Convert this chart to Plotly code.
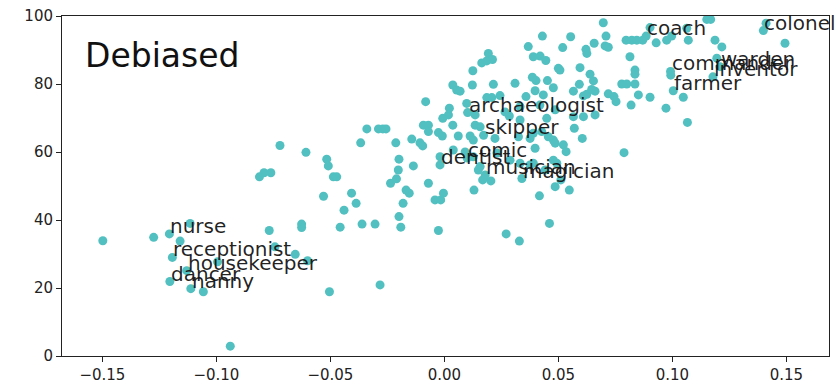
import plotly.graph_objects as go

# Unlabeled points (x = bias projection, y = score)
x_vals = [
    -0.1498, -0.1275, -0.1115, -0.1159, -0.1057, -0.0995, -0.0939, -0.0768, -0.0743, -0.0626,
    -0.0626, -0.0654, -0.0600, -0.0457, -0.0504, -0.0440, -0.0530, -0.0407, -0.0387, -0.0361,
    -0.0304, -0.0236, -0.0210, -0.0202, -0.0168, -0.0154, -0.0181, -0.0199, -0.0191, -0.0282,
    -0.0070, -0.0041, -0.0016, -0.0004, -0.0026, 0.0130, 0.0168, 0.0204, 0.0271, 0.0329,
    0.0417, 0.0461, 0.0486, 0.0548, 0.0511, -0.0721, -0.0607, -0.0811, -0.0791, -0.0761,
    -0.0516, -0.0509, -0.0487, -0.0472, -0.0340, -0.0289, -0.0270, -0.0256, -0.0367, -0.0213,
    -0.0199, -0.0136, -0.0143, -0.0107, -0.0095, -0.0092, -0.0070, -0.0070, -0.0082, -0.0007,
    0.0018, 0.0022, 0.0037, -0.0009, -0.0019, 0.0037, 0.0054, 0.0069, 0.0125, 0.0123,
    0.0164, 0.0193, 0.0211, 0.0186, 0.0215, 0.0186, 0.0208, 0.0244, 0.0098, 0.0135,
    0.0061, 0.0113, 0.0127, 0.0157, 0.0222, 0.0127, 0.0157, 0.0310, 0.0368, 0.0430,
    0.0390, 0.0420, 0.0445, 0.0386, 0.0402, 0.0452, 0.0398, 0.0434, 0.0500, 0.0358,
    0.0332, 0.0449, 0.0390, 0.0398, 0.0478, 0.0519, 0.0554, 0.0507, 0.0595, 0.0621,
    0.0625, 0.0657, 0.0639, 0.0654, 0.0592, 0.0566, 0.0610, 0.0625, 0.0661, 0.0285,
    -0.0026, 0.0135, 0.0149, 0.0478, 0.0493, 0.0522, 0.0534, 0.0605, 0.0570, 0.0478,
    0.0486, 0.0661, 0.0697, 0.0709, 0.0705, 0.0719, 0.0814, 0.0836, 0.0836, 0.0646,
    0.0778, 0.0800, 0.0836, 0.0719, 0.0744, 0.0753, 0.0851, 0.0902, 0.0819, 0.0972,
    0.1048, 0.1066, 0.0788, 0.0929, 0.0797, 0.0822, 0.0844, 0.0870, 0.0902, 0.0975,
    0.0997, 0.1063, 0.1070, 0.1151, 0.1168, 0.1187, 0.1217, 0.0993, 0.1195, 0.1411,
    0.1494, 0.0566, 0.0610, 0.0427, 0.0456, 0.0266, 0.0332, 0.0419, 0.0486, 0.0325,
    0.0376, 0.0039, 0.0091, 0.0231, 0.0288, 0.0376, 0.0442, 0.0332, 0.0390,
]
y_vals = [
    33.9, 34.9, 39.0, 33.8, 18.9, 27.7, 2.9, 36.9, 32.1, 38.8,
    37.8, 29.9, 28.0, 37.9, 18.9, 42.9, 47.0, 47.9, 44.9, 38.8,
    38.8, 50.8, 52.1, 54.7, 48.8, 47.9, 44.9, 41.0, 37.9, 20.9,
    50.8, 45.9, 45.9, 47.9, 36.9, 48.8, 51.8, 51.5, 35.9, 33.8,
    47.1, 39.0, 49.8, 48.8, 51.8, 61.9, 59.9, 52.7, 53.9, 53.9,
    57.9, 55.9, 52.7, 52.7, 66.8, 66.8, 66.8, 66.8, 62.7, 62.7,
    57.9, 55.9, 63.8, 62.7, 61.8, 67.9, 67.9, 66.0, 74.8, 69.9,
    70.9, 72.9, 67.9, 64.7, 58.6, 79.7, 78.2, 77.9, 83.9, 79.7,
    86.2, 89.0, 87.2, 86.8, 79.9, 76.0, 76.0, 76.6, 74.3, 67.9,
    64.7, 64.7, 63.5, 67.4, 64.0, 58.6, 55.7, 80.2, 91.0, 94.1,
    88.0, 88.2, 86.9, 82.0, 81.0, 81.0, 78.0, 76.8, 84.6, 76.3,
    73.3, 69.9, 65.5, 61.1, 78.9, 90.7, 93.9, 84.1, 84.8, 90.2,
    89.0, 92.0, 82.9, 80.9, 79.9, 77.9, 76.5, 77.0, 77.9, 70.6,
    65.7, 70.9, 54.7, 57.6, 56.7, 62.1, 60.1, 64.0, 67.0, 63.5,
    62.6, 70.9, 98.0, 94.1, 91.2, 90.8, 88.0, 84.1, 82.9, 78.4,
    80.0, 80.0, 80.0, 77.1, 76.3, 74.8, 76.8, 76.1, 73.8, 72.9,
    76.1, 68.7, 59.8, 92.1, 92.9, 92.9, 92.9, 92.9, 96.6, 92.9,
    94.1, 96.4, 92.9, 99.0, 99.0, 92.9, 90.9, 82.6, 87.6, 97.9,
    92.0, 70.4, 70.4, 66.0, 64.5, 71.8, 69.4, 73.8, 72.4, 64.5,
    64.0, 60.6, 60.0, 59.7, 57.6, 56.2, 54.7, 56.7, 56.7,
]

# Labeled points
label_words = ["nurse", "receptionist", "housekeeper", "dancer", "nanny",
               "dentist", "comic", "musician", "magician", "skipper",
               "archaeologist", "coach", "colonel", "commander", "warden",
               "inventor", "farmer"]
label_x = [-0.1206, -0.1193, -0.1130, -0.1204, -0.1112,
           -0.0019, 0.0100, 0.0179, 0.0340, 0.0172,
           0.0102, 0.0885, 0.1399, 0.0992, 0.1209,
           0.1178, 0.1004]
label_y = [35.9, 29.0, 25.1, 21.9, 19.8,
           56.2, 58.2, 53.2, 52.2, 64.9,
           71.6, 94.1, 95.7, 83.7, 85.1,
           82.1, 78.0]

x_ticks = [-0.15, -0.10, -0.05, 0.00, 0.05, 0.10, 0.15]
y_ticks = [0, 20, 40, 60, 80, 100]
panel_title = "Debiased"

FONT = "DejaVu Sans"
DOT = "rgb(82,192,192)"

fig = go.Figure()
fig.add_trace(go.Scatter(
    x=x_vals + label_x, y=y_vals + label_y, mode="markers",
    marker=dict(color=DOT, size=9, line=dict(width=0)),
    hoverinfo="skip", showlegend=False,
))

annotations = []
for w, xv, yv in zip(label_words, label_x, label_y):
    annotations.append(dict(
        x=xv, y=yv, xref="x", yref="y", text=w, showarrow=False,
        xanchor="left", yanchor="bottom", xshift=-1, yshift=-6,
        font=dict(family=FONT, size=20, color="rgba(20,20,20,0.95)"),
    ))
annotations.append(dict(
    x=0.027, y=0.885, xref="paper", yref="paper", text=panel_title,
    showarrow=False, xanchor="left", yanchor="middle",
    font=dict(family=FONT, size=33, color="#111"),
))

axis_common = dict(
    showline=True, linecolor="#222", linewidth=1, mirror=True,
    ticks="outside", ticklen=5, tickwidth=1, tickcolor="#222",
    showgrid=False, zeroline=False, automargin=False,
    tickfont=dict(family=FONT, size=15, color="#222"),
)

fig.update_layout(
    width=837, height=388,
    margin=dict(l=62, r=8, t=16, b=32, autoexpand=False),
    paper_bgcolor="white", plot_bgcolor="white",
    xaxis=dict(range=[-0.1677, 0.1687], tickvals=x_ticks,
               ticktext=[("\u2212" if t < 0 else "") + f"{abs(t):.2f}" for t in x_ticks],
               **axis_common),
    yaxis=dict(range=[0, 100], tickvals=y_ticks, **axis_common),
    annotations=annotations,
)

fig.write_html(
    "out.html",
    config={"displayModeBar": False, "staticPlot": True},
    post_script="document.body.style.margin='0';document.body.style.overflow='hidden';",
)
